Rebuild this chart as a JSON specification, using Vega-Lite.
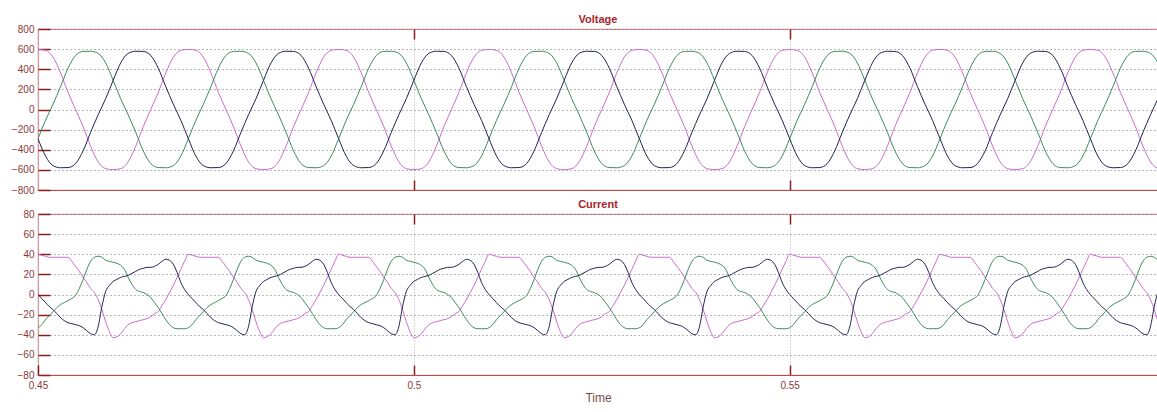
{
"$schema":"https://vega.github.io/schema/vega-lite/v6.json",
"background":"white",
"padding":{"left":0,"top":13,"right":0,"bottom":0},
"spacing":2,
"datasets":{
"volt":[
{"t":0.450,"a":597,"b":-290,"c":-290},{"t":0.451,"a":588,"b":-107,"c":-463},{"t":0.452,"a":520,"b":53,"c":-558},{"t":0.453,"a":364,"b":227,"c":-579},{"t":0.454,"a":170,"b":411,"c":-577},{"t":0.455,"a":0,"b":537,"c":-537},{"t":0.456,"a":-170,"b":577,"c":-411},{"t":0.457,"a":-364,"b":579,"c":-227},{"t":0.458,"a":-520,"b":558,"c":-53},{"t":0.459,"a":-588,"b":463,"c":107},
{"t":0.460,"a":-597,"b":290,"c":290},{"t":0.461,"a":-588,"b":107,"c":463},{"t":0.462,"a":-520,"b":-53,"c":558},{"t":0.463,"a":-364,"b":-227,"c":579},{"t":0.464,"a":-170,"b":-411,"c":577},{"t":0.465,"a":0,"b":-537,"c":537},{"t":0.466,"a":170,"b":-577,"c":411},{"t":0.467,"a":364,"b":-579,"c":227},{"t":0.468,"a":520,"b":-558,"c":53},{"t":0.469,"a":588,"b":-463,"c":-107},
{"t":0.470,"a":597,"b":-290,"c":-290},{"t":0.471,"a":588,"b":-107,"c":-463},{"t":0.472,"a":520,"b":53,"c":-558},{"t":0.473,"a":364,"b":227,"c":-579},{"t":0.474,"a":170,"b":411,"c":-577},{"t":0.475,"a":0,"b":537,"c":-537},{"t":0.476,"a":-170,"b":577,"c":-411},{"t":0.477,"a":-364,"b":579,"c":-227},{"t":0.478,"a":-520,"b":558,"c":-53},{"t":0.479,"a":-588,"b":463,"c":107},
{"t":0.480,"a":-597,"b":290,"c":290},{"t":0.481,"a":-588,"b":107,"c":463},{"t":0.482,"a":-520,"b":-53,"c":558},{"t":0.483,"a":-364,"b":-227,"c":579},{"t":0.484,"a":-170,"b":-411,"c":577},{"t":0.485,"a":0,"b":-537,"c":537},{"t":0.486,"a":170,"b":-577,"c":411},{"t":0.487,"a":364,"b":-579,"c":227},{"t":0.488,"a":520,"b":-558,"c":53},{"t":0.489,"a":588,"b":-463,"c":-107},
{"t":0.490,"a":597,"b":-290,"c":-290},{"t":0.491,"a":588,"b":-107,"c":-463},{"t":0.492,"a":520,"b":53,"c":-558},{"t":0.493,"a":364,"b":227,"c":-579},{"t":0.494,"a":170,"b":411,"c":-577},{"t":0.495,"a":0,"b":537,"c":-537},{"t":0.496,"a":-170,"b":577,"c":-411},{"t":0.497,"a":-364,"b":579,"c":-227},{"t":0.498,"a":-520,"b":558,"c":-53},{"t":0.499,"a":-588,"b":463,"c":107},
{"t":0.500,"a":-597,"b":290,"c":290},{"t":0.501,"a":-588,"b":107,"c":463},{"t":0.502,"a":-520,"b":-53,"c":558},{"t":0.503,"a":-364,"b":-227,"c":579},{"t":0.504,"a":-170,"b":-411,"c":577},{"t":0.505,"a":0,"b":-537,"c":537},{"t":0.506,"a":170,"b":-577,"c":411},{"t":0.507,"a":364,"b":-579,"c":227},{"t":0.508,"a":520,"b":-558,"c":53},{"t":0.509,"a":588,"b":-463,"c":-107},
{"t":0.510,"a":597,"b":-290,"c":-290},{"t":0.511,"a":588,"b":-107,"c":-463},{"t":0.512,"a":520,"b":53,"c":-558},{"t":0.513,"a":364,"b":227,"c":-579},{"t":0.514,"a":170,"b":411,"c":-577},{"t":0.515,"a":0,"b":537,"c":-537},{"t":0.516,"a":-170,"b":577,"c":-411},{"t":0.517,"a":-364,"b":579,"c":-227},{"t":0.518,"a":-520,"b":558,"c":-53},{"t":0.519,"a":-588,"b":463,"c":107},
{"t":0.520,"a":-597,"b":290,"c":290},{"t":0.521,"a":-588,"b":107,"c":463},{"t":0.522,"a":-520,"b":-53,"c":558},{"t":0.523,"a":-364,"b":-227,"c":579},{"t":0.524,"a":-170,"b":-411,"c":577},{"t":0.525,"a":0,"b":-537,"c":537},{"t":0.526,"a":170,"b":-577,"c":411},{"t":0.527,"a":364,"b":-579,"c":227},{"t":0.528,"a":520,"b":-558,"c":53},{"t":0.529,"a":588,"b":-463,"c":-107},
{"t":0.530,"a":597,"b":-290,"c":-290},{"t":0.531,"a":588,"b":-107,"c":-463},{"t":0.532,"a":520,"b":53,"c":-558},{"t":0.533,"a":364,"b":227,"c":-579},{"t":0.534,"a":170,"b":411,"c":-577},{"t":0.535,"a":0,"b":537,"c":-537},{"t":0.536,"a":-170,"b":577,"c":-411},{"t":0.537,"a":-364,"b":579,"c":-227},{"t":0.538,"a":-520,"b":558,"c":-53},{"t":0.539,"a":-588,"b":463,"c":107},
{"t":0.540,"a":-597,"b":290,"c":290},{"t":0.541,"a":-588,"b":107,"c":463},{"t":0.542,"a":-520,"b":-53,"c":558},{"t":0.543,"a":-364,"b":-227,"c":579},{"t":0.544,"a":-170,"b":-411,"c":577},{"t":0.545,"a":0,"b":-537,"c":537},{"t":0.546,"a":170,"b":-577,"c":411},{"t":0.547,"a":364,"b":-579,"c":227},{"t":0.548,"a":520,"b":-558,"c":53},{"t":0.549,"a":588,"b":-463,"c":-107},
{"t":0.550,"a":597,"b":-290,"c":-290},{"t":0.551,"a":588,"b":-107,"c":-463},{"t":0.552,"a":520,"b":53,"c":-558},{"t":0.553,"a":364,"b":227,"c":-579},{"t":0.554,"a":170,"b":411,"c":-577},{"t":0.555,"a":0,"b":537,"c":-537},{"t":0.556,"a":-170,"b":577,"c":-411},{"t":0.557,"a":-364,"b":579,"c":-227},{"t":0.558,"a":-520,"b":558,"c":-53},{"t":0.559,"a":-588,"b":463,"c":107},
{"t":0.560,"a":-597,"b":290,"c":290},{"t":0.561,"a":-588,"b":107,"c":463},{"t":0.562,"a":-520,"b":-53,"c":558},{"t":0.563,"a":-364,"b":-227,"c":579},{"t":0.564,"a":-170,"b":-411,"c":577},{"t":0.565,"a":0,"b":-537,"c":537},{"t":0.566,"a":170,"b":-577,"c":411},{"t":0.567,"a":364,"b":-579,"c":227},{"t":0.568,"a":520,"b":-558,"c":53},{"t":0.569,"a":588,"b":-463,"c":-107},
{"t":0.570,"a":597,"b":-290,"c":-290},{"t":0.571,"a":588,"b":-107,"c":-463},{"t":0.572,"a":520,"b":53,"c":-558},{"t":0.573,"a":364,"b":227,"c":-579},{"t":0.574,"a":170,"b":411,"c":-577},{"t":0.575,"a":0,"b":537,"c":-537},{"t":0.576,"a":-170,"b":577,"c":-411},{"t":0.577,"a":-364,"b":579,"c":-227},{"t":0.578,"a":-520,"b":558,"c":-53},{"t":0.579,"a":-588,"b":463,"c":107},
{"t":0.580,"a":-597,"b":290,"c":290},{"t":0.581,"a":-588,"b":107,"c":463},{"t":0.582,"a":-520,"b":-53,"c":558},{"t":0.583,"a":-364,"b":-227,"c":579},{"t":0.584,"a":-170,"b":-411,"c":577},{"t":0.585,"a":0,"b":-537,"c":537},{"t":0.586,"a":170,"b":-577,"c":411},{"t":0.587,"a":364,"b":-579,"c":227},{"t":0.588,"a":520,"b":-558,"c":53},{"t":0.589,"a":588,"b":-463,"c":-107},
{"t":0.590,"a":597,"b":-290,"c":-290},{"t":0.591,"a":588,"b":-107,"c":-463},{"t":0.592,"a":520,"b":53,"c":-558},{"t":0.593,"a":364,"b":227,"c":-579},{"t":0.594,"a":170,"b":411,"c":-577},{"t":0.595,"a":0,"b":537,"c":-537},{"t":0.596,"a":-170,"b":577,"c":-411},{"t":0.597,"a":-364,"b":579,"c":-227},{"t":0.598,"a":-520,"b":558,"c":-53},{"t":0.599,"a":-588,"b":463,"c":107}
],
"curr":[
{"t":0.4500,"a":40,"b":-33,"c":0},{"t":0.4505,"a":39,"b":-30,"c":-4},{"t":0.4510,"a":38,"b":-25,"c":-8},{"t":0.4515,"a":37,"b":-21,"c":-12},{"t":0.4520,"a":37,"b":-17,"c":-15},{"t":0.4525,"a":37,"b":-13,"c":-19},{"t":0.4530,"a":37,"b":-10,"c":-23},{"t":0.4535,"a":37,"b":-8,"c":-26},{"t":0.4540,"a":37,"b":-6,"c":-28},{"t":0.4545,"a":33,"b":-4,"c":-29},
{"t":0.4550,"a":28,"b":-1,"c":-30},{"t":0.4555,"a":23,"b":6,"c":-31},{"t":0.4560,"a":17,"b":15,"c":-33},{"t":0.4565,"a":12,"b":25,"c":-36},{"t":0.4570,"a":6,"b":33,"c":-39},{"t":0.4575,"a":2,"b":37,"c":-40},{"t":0.4580,"a":-5,"b":38,"c":-32},{"t":0.4585,"a":-15,"b":37,"c":-12},{"t":0.4590,"a":-27,"b":34,"c":3},{"t":0.4595,"a":-37,"b":33,"c":9},
{"t":0.4600,"a":-43,"b":32,"c":13},{"t":0.4605,"a":-42,"b":31,"c":15},{"t":0.4610,"a":-39,"b":29,"c":17},{"t":0.4615,"a":-34,"b":25,"c":18},{"t":0.4620,"a":-30,"b":17,"c":19},{"t":0.4625,"a":-28,"b":10,"c":21},{"t":0.4630,"a":-27,"b":5,"c":23},{"t":0.4635,"a":-26,"b":3,"c":25},{"t":0.4640,"a":-25,"b":2,"c":26},{"t":0.4645,"a":-24,"b":0,"c":27},
{"t":0.4650,"a":-22,"b":-3,"c":27},{"t":0.4655,"a":-19,"b":-8,"c":28},{"t":0.4660,"a":-17,"b":-13,"c":30},{"t":0.4665,"a":-11,"b":-19,"c":33},{"t":0.4670,"a":-5,"b":-25,"c":35},{"t":0.4675,"a":2,"b":-30,"c":34},{"t":0.4680,"a":9,"b":-33,"c":30},{"t":0.4685,"a":17,"b":-34,"c":22},{"t":0.4690,"a":25,"b":-34,"c":12},{"t":0.4695,"a":33,"b":-34,"c":5},
{"t":0.4700,"a":40,"b":-33,"c":0},{"t":0.4705,"a":39,"b":-30,"c":-4},{"t":0.4710,"a":38,"b":-25,"c":-8},{"t":0.4715,"a":37,"b":-21,"c":-12},{"t":0.4720,"a":37,"b":-17,"c":-15},{"t":0.4725,"a":37,"b":-13,"c":-19},{"t":0.4730,"a":37,"b":-10,"c":-23},{"t":0.4735,"a":37,"b":-8,"c":-26},{"t":0.4740,"a":37,"b":-6,"c":-28},{"t":0.4745,"a":33,"b":-4,"c":-29},
{"t":0.4750,"a":28,"b":-1,"c":-30},{"t":0.4755,"a":23,"b":6,"c":-31},{"t":0.4760,"a":17,"b":15,"c":-33},{"t":0.4765,"a":12,"b":25,"c":-36},{"t":0.4770,"a":6,"b":33,"c":-39},{"t":0.4775,"a":2,"b":37,"c":-40},{"t":0.4780,"a":-5,"b":38,"c":-32},{"t":0.4785,"a":-15,"b":37,"c":-12},{"t":0.4790,"a":-27,"b":34,"c":3},{"t":0.4795,"a":-37,"b":33,"c":9},
{"t":0.4800,"a":-43,"b":32,"c":13},{"t":0.4805,"a":-42,"b":31,"c":15},{"t":0.4810,"a":-39,"b":29,"c":17},{"t":0.4815,"a":-34,"b":25,"c":18},{"t":0.4820,"a":-30,"b":17,"c":19},{"t":0.4825,"a":-28,"b":10,"c":21},{"t":0.4830,"a":-27,"b":5,"c":23},{"t":0.4835,"a":-26,"b":3,"c":25},{"t":0.4840,"a":-25,"b":2,"c":26},{"t":0.4845,"a":-24,"b":0,"c":27},
{"t":0.4850,"a":-22,"b":-3,"c":27},{"t":0.4855,"a":-19,"b":-8,"c":28},{"t":0.4860,"a":-17,"b":-13,"c":30},{"t":0.4865,"a":-11,"b":-19,"c":33},{"t":0.4870,"a":-5,"b":-25,"c":35},{"t":0.4875,"a":2,"b":-30,"c":34},{"t":0.4880,"a":9,"b":-33,"c":30},{"t":0.4885,"a":17,"b":-34,"c":22},{"t":0.4890,"a":25,"b":-34,"c":12},{"t":0.4895,"a":33,"b":-34,"c":5},
{"t":0.4900,"a":40,"b":-33,"c":0},{"t":0.4905,"a":39,"b":-30,"c":-4},{"t":0.4910,"a":38,"b":-25,"c":-8},{"t":0.4915,"a":37,"b":-21,"c":-12},{"t":0.4920,"a":37,"b":-17,"c":-15},{"t":0.4925,"a":37,"b":-13,"c":-19},{"t":0.4930,"a":37,"b":-10,"c":-23},{"t":0.4935,"a":37,"b":-8,"c":-26},{"t":0.4940,"a":37,"b":-6,"c":-28},{"t":0.4945,"a":33,"b":-4,"c":-29},
{"t":0.4950,"a":28,"b":-1,"c":-30},{"t":0.4955,"a":23,"b":6,"c":-31},{"t":0.4960,"a":17,"b":15,"c":-33},{"t":0.4965,"a":12,"b":25,"c":-36},{"t":0.4970,"a":6,"b":33,"c":-39},{"t":0.4975,"a":2,"b":37,"c":-40},{"t":0.4980,"a":-5,"b":38,"c":-32},{"t":0.4985,"a":-15,"b":37,"c":-12},{"t":0.4990,"a":-27,"b":34,"c":3},{"t":0.4995,"a":-37,"b":33,"c":9},
{"t":0.5000,"a":-43,"b":32,"c":13},{"t":0.5005,"a":-42,"b":31,"c":15},{"t":0.5010,"a":-39,"b":29,"c":17},{"t":0.5015,"a":-34,"b":25,"c":18},{"t":0.5020,"a":-30,"b":17,"c":19},{"t":0.5025,"a":-28,"b":10,"c":21},{"t":0.5030,"a":-27,"b":5,"c":23},{"t":0.5035,"a":-26,"b":3,"c":25},{"t":0.5040,"a":-25,"b":2,"c":26},{"t":0.5045,"a":-24,"b":0,"c":27},
{"t":0.5050,"a":-22,"b":-3,"c":27},{"t":0.5055,"a":-19,"b":-8,"c":28},{"t":0.5060,"a":-17,"b":-13,"c":30},{"t":0.5065,"a":-11,"b":-19,"c":33},{"t":0.5070,"a":-5,"b":-25,"c":35},{"t":0.5075,"a":2,"b":-30,"c":34},{"t":0.5080,"a":9,"b":-33,"c":30},{"t":0.5085,"a":17,"b":-34,"c":22},{"t":0.5090,"a":25,"b":-34,"c":12},{"t":0.5095,"a":33,"b":-34,"c":5},
{"t":0.5100,"a":40,"b":-33,"c":0},{"t":0.5105,"a":39,"b":-30,"c":-4},{"t":0.5110,"a":38,"b":-25,"c":-8},{"t":0.5115,"a":37,"b":-21,"c":-12},{"t":0.5120,"a":37,"b":-17,"c":-15},{"t":0.5125,"a":37,"b":-13,"c":-19},{"t":0.5130,"a":37,"b":-10,"c":-23},{"t":0.5135,"a":37,"b":-8,"c":-26},{"t":0.5140,"a":37,"b":-6,"c":-28},{"t":0.5145,"a":33,"b":-4,"c":-29},
{"t":0.5150,"a":28,"b":-1,"c":-30},{"t":0.5155,"a":23,"b":6,"c":-31},{"t":0.5160,"a":17,"b":15,"c":-33},{"t":0.5165,"a":12,"b":25,"c":-36},{"t":0.5170,"a":6,"b":33,"c":-39},{"t":0.5175,"a":2,"b":37,"c":-40},{"t":0.5180,"a":-5,"b":38,"c":-32},{"t":0.5185,"a":-15,"b":37,"c":-12},{"t":0.5190,"a":-27,"b":34,"c":3},{"t":0.5195,"a":-37,"b":33,"c":9},
{"t":0.5200,"a":-43,"b":32,"c":13},{"t":0.5205,"a":-42,"b":31,"c":15},{"t":0.5210,"a":-39,"b":29,"c":17},{"t":0.5215,"a":-34,"b":25,"c":18},{"t":0.5220,"a":-30,"b":17,"c":19},{"t":0.5225,"a":-28,"b":10,"c":21},{"t":0.5230,"a":-27,"b":5,"c":23},{"t":0.5235,"a":-26,"b":3,"c":25},{"t":0.5240,"a":-25,"b":2,"c":26},{"t":0.5245,"a":-24,"b":0,"c":27},
{"t":0.5250,"a":-22,"b":-3,"c":27},{"t":0.5255,"a":-19,"b":-8,"c":28},{"t":0.5260,"a":-17,"b":-13,"c":30},{"t":0.5265,"a":-11,"b":-19,"c":33},{"t":0.5270,"a":-5,"b":-25,"c":35},{"t":0.5275,"a":2,"b":-30,"c":34},{"t":0.5280,"a":9,"b":-33,"c":30},{"t":0.5285,"a":17,"b":-34,"c":22},{"t":0.5290,"a":25,"b":-34,"c":12},{"t":0.5295,"a":33,"b":-34,"c":5},
{"t":0.5300,"a":40,"b":-33,"c":0},{"t":0.5305,"a":39,"b":-30,"c":-4},{"t":0.5310,"a":38,"b":-25,"c":-8},{"t":0.5315,"a":37,"b":-21,"c":-12},{"t":0.5320,"a":37,"b":-17,"c":-15},{"t":0.5325,"a":37,"b":-13,"c":-19},{"t":0.5330,"a":37,"b":-10,"c":-23},{"t":0.5335,"a":37,"b":-8,"c":-26},{"t":0.5340,"a":37,"b":-6,"c":-28},{"t":0.5345,"a":33,"b":-4,"c":-29},
{"t":0.5350,"a":28,"b":-1,"c":-30},{"t":0.5355,"a":23,"b":6,"c":-31},{"t":0.5360,"a":17,"b":15,"c":-33},{"t":0.5365,"a":12,"b":25,"c":-36},{"t":0.5370,"a":6,"b":33,"c":-39},{"t":0.5375,"a":2,"b":37,"c":-40},{"t":0.5380,"a":-5,"b":38,"c":-32},{"t":0.5385,"a":-15,"b":37,"c":-12},{"t":0.5390,"a":-27,"b":34,"c":3},{"t":0.5395,"a":-37,"b":33,"c":9},
{"t":0.5400,"a":-43,"b":32,"c":13},{"t":0.5405,"a":-42,"b":31,"c":15},{"t":0.5410,"a":-39,"b":29,"c":17},{"t":0.5415,"a":-34,"b":25,"c":18},{"t":0.5420,"a":-30,"b":17,"c":19},{"t":0.5425,"a":-28,"b":10,"c":21},{"t":0.5430,"a":-27,"b":5,"c":23},{"t":0.5435,"a":-26,"b":3,"c":25},{"t":0.5440,"a":-25,"b":2,"c":26},{"t":0.5445,"a":-24,"b":0,"c":27},
{"t":0.5450,"a":-22,"b":-3,"c":27},{"t":0.5455,"a":-19,"b":-8,"c":28},{"t":0.5460,"a":-17,"b":-13,"c":30},{"t":0.5465,"a":-11,"b":-19,"c":33},{"t":0.5470,"a":-5,"b":-25,"c":35},{"t":0.5475,"a":2,"b":-30,"c":34},{"t":0.5480,"a":9,"b":-33,"c":30},{"t":0.5485,"a":17,"b":-34,"c":22},{"t":0.5490,"a":25,"b":-34,"c":12},{"t":0.5495,"a":33,"b":-34,"c":5},
{"t":0.5500,"a":40,"b":-33,"c":0},{"t":0.5505,"a":39,"b":-30,"c":-4},{"t":0.5510,"a":38,"b":-25,"c":-8},{"t":0.5515,"a":37,"b":-21,"c":-12},{"t":0.5520,"a":37,"b":-17,"c":-15},{"t":0.5525,"a":37,"b":-13,"c":-19},{"t":0.5530,"a":37,"b":-10,"c":-23},{"t":0.5535,"a":37,"b":-8,"c":-26},{"t":0.5540,"a":37,"b":-6,"c":-28},{"t":0.5545,"a":33,"b":-4,"c":-29},
{"t":0.5550,"a":28,"b":-1,"c":-30},{"t":0.5555,"a":23,"b":6,"c":-31},{"t":0.5560,"a":17,"b":15,"c":-33},{"t":0.5565,"a":12,"b":25,"c":-36},{"t":0.5570,"a":6,"b":33,"c":-39},{"t":0.5575,"a":2,"b":37,"c":-40},{"t":0.5580,"a":-5,"b":38,"c":-32},{"t":0.5585,"a":-15,"b":37,"c":-12},{"t":0.5590,"a":-27,"b":34,"c":3},{"t":0.5595,"a":-37,"b":33,"c":9},
{"t":0.5600,"a":-43,"b":32,"c":13},{"t":0.5605,"a":-42,"b":31,"c":15},{"t":0.5610,"a":-39,"b":29,"c":17},{"t":0.5615,"a":-34,"b":25,"c":18},{"t":0.5620,"a":-30,"b":17,"c":19},{"t":0.5625,"a":-28,"b":10,"c":21},{"t":0.5630,"a":-27,"b":5,"c":23},{"t":0.5635,"a":-26,"b":3,"c":25},{"t":0.5640,"a":-25,"b":2,"c":26},{"t":0.5645,"a":-24,"b":0,"c":27},
{"t":0.5650,"a":-22,"b":-3,"c":27},{"t":0.5655,"a":-19,"b":-8,"c":28},{"t":0.5660,"a":-17,"b":-13,"c":30},{"t":0.5665,"a":-11,"b":-19,"c":33},{"t":0.5670,"a":-5,"b":-25,"c":35},{"t":0.5675,"a":2,"b":-30,"c":34},{"t":0.5680,"a":9,"b":-33,"c":30},{"t":0.5685,"a":17,"b":-34,"c":22},{"t":0.5690,"a":25,"b":-34,"c":12},{"t":0.5695,"a":33,"b":-34,"c":5},
{"t":0.5700,"a":40,"b":-33,"c":0},{"t":0.5705,"a":39,"b":-30,"c":-4},{"t":0.5710,"a":38,"b":-25,"c":-8},{"t":0.5715,"a":37,"b":-21,"c":-12},{"t":0.5720,"a":37,"b":-17,"c":-15},{"t":0.5725,"a":37,"b":-13,"c":-19},{"t":0.5730,"a":37,"b":-10,"c":-23},{"t":0.5735,"a":37,"b":-8,"c":-26},{"t":0.5740,"a":37,"b":-6,"c":-28},{"t":0.5745,"a":33,"b":-4,"c":-29},
{"t":0.5750,"a":28,"b":-1,"c":-30},{"t":0.5755,"a":23,"b":6,"c":-31},{"t":0.5760,"a":17,"b":15,"c":-33},{"t":0.5765,"a":12,"b":25,"c":-36},{"t":0.5770,"a":6,"b":33,"c":-39},{"t":0.5775,"a":2,"b":37,"c":-40},{"t":0.5780,"a":-5,"b":38,"c":-32},{"t":0.5785,"a":-15,"b":37,"c":-12},{"t":0.5790,"a":-27,"b":34,"c":3},{"t":0.5795,"a":-37,"b":33,"c":9},
{"t":0.5800,"a":-43,"b":32,"c":13},{"t":0.5805,"a":-42,"b":31,"c":15},{"t":0.5810,"a":-39,"b":29,"c":17},{"t":0.5815,"a":-34,"b":25,"c":18},{"t":0.5820,"a":-30,"b":17,"c":19},{"t":0.5825,"a":-28,"b":10,"c":21},{"t":0.5830,"a":-27,"b":5,"c":23},{"t":0.5835,"a":-26,"b":3,"c":25},{"t":0.5840,"a":-25,"b":2,"c":26},{"t":0.5845,"a":-24,"b":0,"c":27},
{"t":0.5850,"a":-22,"b":-3,"c":27},{"t":0.5855,"a":-19,"b":-8,"c":28},{"t":0.5860,"a":-17,"b":-13,"c":30},{"t":0.5865,"a":-11,"b":-19,"c":33},{"t":0.5870,"a":-5,"b":-25,"c":35},{"t":0.5875,"a":2,"b":-30,"c":34},{"t":0.5880,"a":9,"b":-33,"c":30},{"t":0.5885,"a":17,"b":-34,"c":22},{"t":0.5890,"a":25,"b":-34,"c":12},{"t":0.5895,"a":33,"b":-34,"c":5},
{"t":0.5900,"a":40,"b":-33,"c":0},{"t":0.5905,"a":39,"b":-30,"c":-4},{"t":0.5910,"a":38,"b":-25,"c":-8},{"t":0.5915,"a":37,"b":-21,"c":-12},{"t":0.5920,"a":37,"b":-17,"c":-15},{"t":0.5925,"a":37,"b":-13,"c":-19},{"t":0.5930,"a":37,"b":-10,"c":-23},{"t":0.5935,"a":37,"b":-8,"c":-26},{"t":0.5940,"a":37,"b":-6,"c":-28},{"t":0.5945,"a":33,"b":-4,"c":-29},
{"t":0.5950,"a":28,"b":-1,"c":-30},{"t":0.5955,"a":23,"b":6,"c":-31},{"t":0.5960,"a":17,"b":15,"c":-33},{"t":0.5965,"a":12,"b":25,"c":-36},{"t":0.5970,"a":6,"b":33,"c":-39},{"t":0.5975,"a":2,"b":37,"c":-40},{"t":0.5980,"a":-5,"b":38,"c":-32},{"t":0.5985,"a":-15,"b":37,"c":-12},{"t":0.5990,"a":-27,"b":34,"c":3}
]
},
"vconcat":[
{
"title":{"text":"Voltage"},
"width":1120,"height":161,
"data":{"name":"volt"},
"transform":[{"fold":["a","b","c"],"as":["phase","value"]}],
"layer":[
{"mark":{"type":"line","strokeWidth":1,"interpolate":"monotone","clip":true},
"encoding":{
"x":{"field":"t","type":"quantitative","scale":{"domain":[0.45,0.599],"nice":false,"zero":false},
"axis":{"orient":"bottom","values":[0.5,0.55],"labels":false,"title":null,"tickSize":-10,"tickWidth":1.5,"grid":true,"gridColor":"#b0b0b0","gridDash":[1,2],"domain":true,"domainColor":"#b84a4a","minExtent":0,"maxExtent":0}},
"y":{"field":"value","type":"quantitative","scale":{"domain":[-800,800],"nice":false},
"axis":{"orient":"left","values":[-800,-600,-400,-200,0,200,400,600,800],"title":null,"tickSize":-12,"tickWidth":1.5,"labelPadding":16,"minExtent":37,"maxExtent":37,"grid":true}},
"color":{"field":"phase","type":"nominal","scale":{"domain":["a","b","c"],"range":["#c86ccc","#3e8a5c","#1f2350"]},"legend":null}
}},
{"mark":{"type":"rule","opacity":0},
"encoding":{"x":{"field":"t","type":"quantitative","axis":{"orient":"top","values":[0.5,0.55],"labels":false,"title":null,"tickSize":-10,"tickWidth":1.5,"grid":false,"domain":false,"minExtent":0,"maxExtent":0}}}}
]
},
{
"title":{"text":"Current"},
"width":1120,"height":161,
"data":{"name":"curr"},
"transform":[{"fold":["a","b","c"],"as":["phase","value"]}],
"layer":[
{"mark":{"type":"line","strokeWidth":1,"interpolate":"monotone","clip":true},
"encoding":{
"x":{"field":"t","type":"quantitative","scale":{"domain":[0.45,0.599],"nice":false,"zero":false},
"axis":{"orient":"bottom","values":[0.45,0.5,0.55],"format":"~g","labelFlush":false,"title":"Time","titleFontSize":12,"titleFontWeight":"normal","titleColor":"#7a4a4a","titlePadding":2,"tickSize":-10,"tickWidth":1.5,"labelPadding":15,"grid":true,"gridColor":"#b0b0b0","gridDash":[1,2],"domain":true,"domainColor":"#b84a4a"}},
"y":{"field":"value","type":"quantitative","scale":{"domain":[-80,80],"nice":false},
"axis":{"orient":"left","values":[-80,-60,-40,-20,0,20,40,60,80],"title":null,"tickSize":-12,"tickWidth":1.5,"labelPadding":16,"minExtent":37,"maxExtent":37,"grid":true}},
"color":{"field":"phase","type":"nominal","scale":{"domain":["a","b","c"],"range":["#c86ccc","#3e8a5c","#1f2350"]},"legend":null}
}},
{"mark":{"type":"rule","opacity":0},
"encoding":{"x":{"field":"t","type":"quantitative","axis":{"orient":"top","values":[0.5,0.55],"labels":false,"title":null,"tickSize":-10,"tickWidth":1.5,"grid":false,"domain":false,"minExtent":0,"maxExtent":0}}}}
]
}
],
"config":{
"font":"Liberation Sans",
"view":{"stroke":"#d98b8b","strokeWidth":1.2},
"axis":{"labelFont":"Liberation Sans","labelFontSize":10,"labelColor":"#8b3a3a","tickColor":"#8b1f1f","domain":false,"gridDash":[1,3],"gridColor":"#707070","gridWidth":1,"titleFont":"Liberation Sans"},
"title":{"font":"Liberation Sans","fontSize":11,"fontWeight":"bold","color":"#a8262b","offset":-1}
}
}
